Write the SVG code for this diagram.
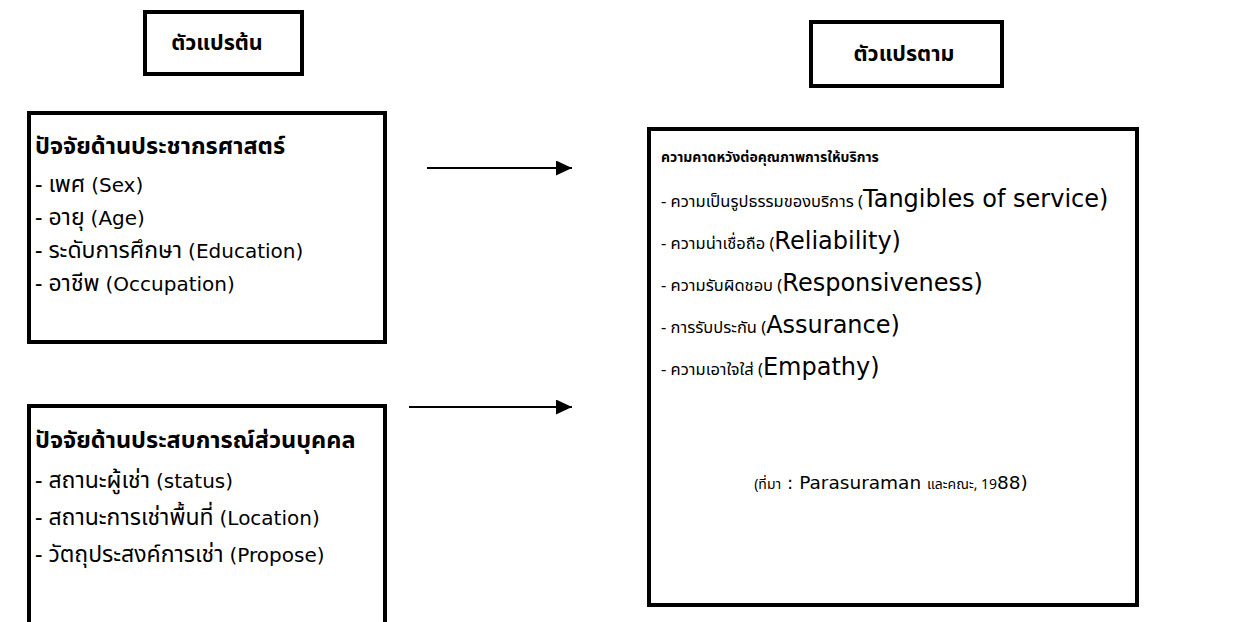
<svg xmlns="http://www.w3.org/2000/svg" width="1242" height="622" viewBox="0 0 1242 622">
<style>
.box{fill:#fff;stroke:#000;stroke-width:4}
.t{fill:#000}
.th{font-family:"Noto Sans","Noto Sans Thai",sans-serif}
.la{font-family:"DejaVu Sans","Liberation Sans",sans-serif}
.lab{font-size:21.5px;font-weight:bold}
.h{font-size:23.5px;font-weight:bold}
.it{font-size:23px}
.il{font-size:20px}
.rs{font-size:16.5px}
.rl{font-size:24px}
.ss{font-size:14px}
.sl{font-size:18.5px}
.rh{font-size:14px;font-weight:bold}
.ln{stroke:#000;stroke-width:2;fill:none}
</style>
<defs>
<marker id="ah" markerWidth="16" markerHeight="15" refX="16" refY="7.5" orient="auto" markerUnits="userSpaceOnUse">
<path d="M0,0 L16,7.5 L0,15 Z" fill="#000"/>
</marker>
</defs>
<g id="indep-label">
<rect class="box" x="145" y="12" width="157" height="62"/>
<text class="t th lab" x="217" y="50" text-anchor="middle">ตัวแปรต้น</text>
</g>
<g id="dep-label">
<rect class="box" x="811" y="22" width="191" height="64"/>
<text class="t th lab" x="904" y="61" text-anchor="middle">ตัวแปรตาม</text>
</g>
<g id="demographic">
<rect class="box" x="29" y="113" width="356" height="229"/>
<text class="t th h" x="35" y="154">ปัจจัยด้านประชากรศาสตร์</text>
<text class="t" x="35" y="192"><tspan class="th it">- เพศ </tspan><tspan class="la il">(Sex)</tspan></text>
<text class="t" x="35" y="225"><tspan class="th it">- อายุ </tspan><tspan class="la il">(Age)</tspan></text>
<text class="t" x="35" y="258"><tspan class="th it">- ระดับการศึกษา </tspan><tspan class="la il">(Education)</tspan></text>
<text class="t" x="35" y="291"><tspan class="th it">- อาชีพ </tspan><tspan class="la il">(Occupation)</tspan></text>
</g>
<g id="experience">
<path class="box" d="M29,630 L29,406 L385,406 L385,630"/>
<text class="t th h" x="35" y="448">ปัจจัยด้านประสบการณ์ส่วนบุคคล</text>
<text class="t" x="35" y="488"><tspan class="th it">- สถานะผู้เช่า </tspan><tspan class="la il">(status)</tspan></text>
<text class="t" x="35" y="525"><tspan class="th it">- สถานะการเช่าพื้นที่ </tspan><tspan class="la il">(Location)</tspan></text>
<text class="t" x="35" y="562"><tspan class="th it">- วัตถุประสงค์การเช่า </tspan><tspan class="la il">(Propose)</tspan></text>
</g>
<g id="expectation">
<rect class="box" x="649" y="129" width="488" height="476"/>
<text class="t th rh" x="661" y="162">ความคาดหวังต่อคุณภาพการให้บริการ</text>
<text class="t" x="661" y="207"><tspan class="th rs">- ความเป็นรูปธรรมของบริการ (</tspan><tspan class="la rl">Tangibles of service)</tspan></text>
<text class="t" x="661" y="249"><tspan class="th rs">- ความน่าเชื่อถือ (</tspan><tspan class="la rl">Reliability)</tspan></text>
<text class="t" x="661" y="291"><tspan class="th rs">- ความรับผิดชอบ (</tspan><tspan class="la rl">Responsiveness)</tspan></text>
<text class="t" x="661" y="333"><tspan class="th rs">- การรับประกัน (</tspan><tspan class="la rl">Assurance)</tspan></text>
<text class="t" x="661" y="375"><tspan class="th rs">- ความเอาใจใส่ (</tspan><tspan class="la rl">Empathy)</tspan></text>
<text class="t" x="891" y="489" text-anchor="middle"><tspan class="th ss">(ที่มา</tspan><tspan class="la sl"> : Parasuraman </tspan><tspan class="th ss">และคณะ, 19</tspan><tspan class="la sl">88)</tspan></text>
</g>
<g id="connectors">
<line class="ln" x1="427" y1="168" x2="572" y2="168" marker-end="url(#ah)"/>
<line class="ln" x1="409" y1="407" x2="572" y2="407" marker-end="url(#ah)"/>
</g>
</svg>
